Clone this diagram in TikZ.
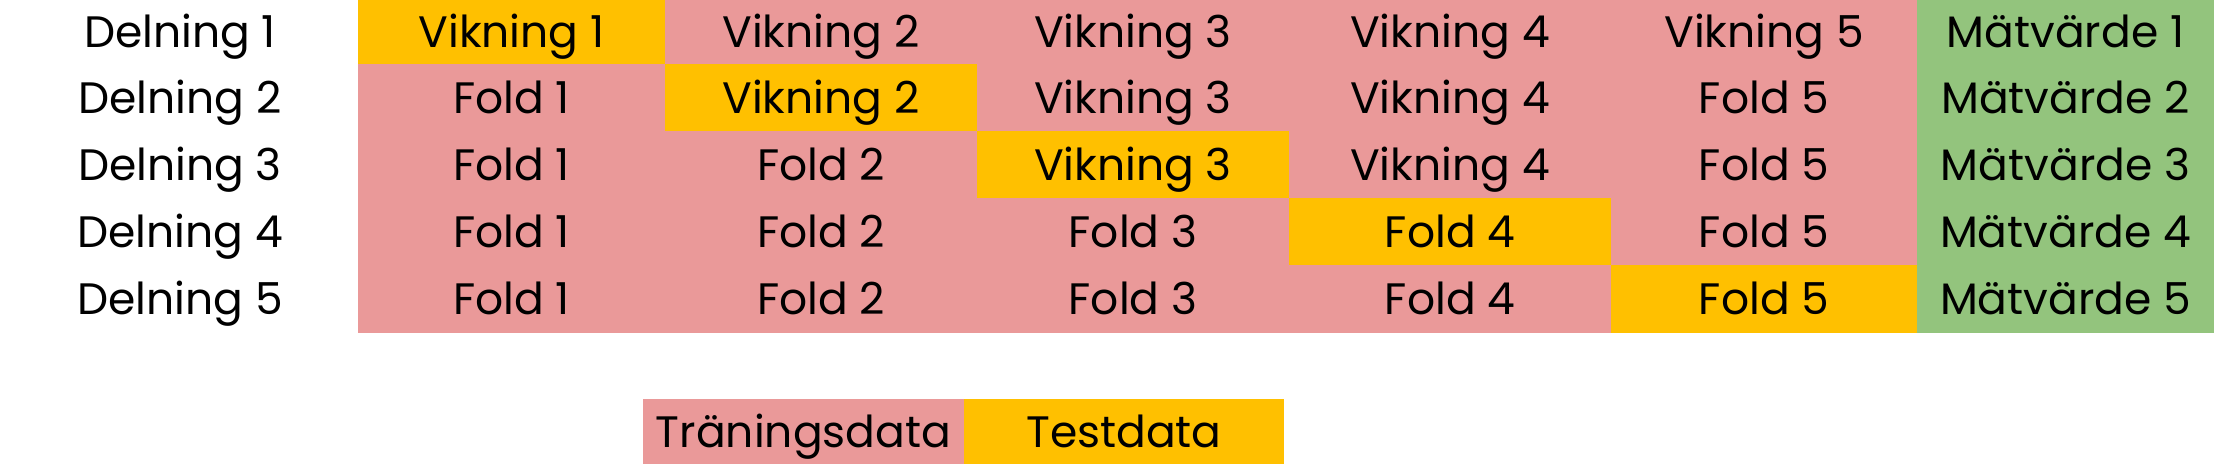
\documentclass[tikz,border=0pt]{standalone}
\usepackage{fontspec}
\setmainfont{Poppins}
\definecolor{trainpink}{HTML}{EA9999}
\definecolor{testgold}{HTML}{FFC000}
\definecolor{metricgreen}{HTML}{93C47D}
\tikzset{
  cellbox/.style={inner sep=0pt, outer sep=0pt, line width=1pt, text=black,
    font=\fontsize{44}{52}\selectfont, text height=31pt, text depth=0pt},
  rowlabel/.style={inner sep=0pt, text=black,
    font=\fontsize{44}{52}\selectfont, text height=31pt, text depth=0pt}
}
% name, colour, x1, y1, x2, y2, text
\newcommand{\mycell}[7]{%
  \node[cellbox, fill=#2, draw=#2,
    minimum width={(#5-#3)*1pt-1pt}, minimum height={(#6-#4)*1pt-1pt}]
    (#1) at ({(#3+#5)/2},{-(#4+#6)/2}) {#7};}
\begin{document}
\begin{tikzpicture}[x=1pt,y=1pt]
\useasboundingbox (0,0) rectangle (2220,-464);
% row labels
\node[rowlabel] (d1) at (180,-32) {Delning 1};
\node[rowlabel] (d2) at (180,-97.5) {Delning 2};
\node[rowlabel] (d3) at (180,-164.5) {Delning 3};
\node[rowlabel] (d4) at (180,-231.5) {Delning 4};
\node[rowlabel] (d5) at (180,-299) {Delning 5};
% row 1
\mycell{c11}{testgold}{358}{0}{665}{64}{Vikning 1}
\mycell{c12}{trainpink}{665}{0}{977}{64}{Vikning 2}
\mycell{c13}{trainpink}{977}{0}{1289}{64}{Vikning 3}
\mycell{c14}{trainpink}{1289}{0}{1611}{64}{Vikning 4}
\mycell{c15}{trainpink}{1611}{0}{1917}{64}{Vikning 5}
\mycell{c16}{metricgreen}{1917}{0}{2214}{64}{Mätvärde 1}
% row 2
\mycell{c21}{trainpink}{358}{64}{665}{131}{Fold 1}
\mycell{c22}{testgold}{665}{64}{977}{131}{Vikning 2}
\mycell{c23}{trainpink}{977}{64}{1289}{131}{Vikning 3}
\mycell{c24}{trainpink}{1289}{64}{1611}{131}{Vikning 4}
\mycell{c25}{trainpink}{1611}{64}{1917}{131}{Fold 5}
\mycell{c26}{metricgreen}{1917}{64}{2214}{131}{Mätvärde 2}
% row 3
\mycell{c31}{trainpink}{358}{131}{665}{198}{Fold 1}
\mycell{c32}{trainpink}{665}{131}{977}{198}{Fold 2}
\mycell{c33}{testgold}{977}{131}{1289}{198}{Vikning 3}
\mycell{c34}{trainpink}{1289}{131}{1611}{198}{Vikning 4}
\mycell{c35}{trainpink}{1611}{131}{1917}{198}{Fold 5}
\mycell{c36}{metricgreen}{1917}{131}{2214}{198}{Mätvärde 3}
% row 4
\mycell{c41}{trainpink}{358}{198}{665}{265}{Fold 1}
\mycell{c42}{trainpink}{665}{198}{977}{265}{Fold 2}
\mycell{c43}{trainpink}{977}{198}{1289}{265}{Fold 3}
\mycell{c44}{testgold}{1289}{198}{1611}{265}{Fold 4}
\mycell{c45}{trainpink}{1611}{198}{1917}{265}{Fold 5}
\mycell{c46}{metricgreen}{1917}{198}{2214}{265}{Mätvärde 4}
% row 5
\mycell{c51}{trainpink}{358}{265}{665}{333}{Fold 1}
\mycell{c52}{trainpink}{665}{265}{977}{333}{Fold 2}
\mycell{c53}{trainpink}{977}{265}{1289}{333}{Fold 3}
\mycell{c54}{trainpink}{1289}{265}{1611}{333}{Fold 4}
\mycell{c55}{testgold}{1611}{265}{1917}{333}{Fold 5}
\mycell{c56}{metricgreen}{1917}{265}{2214}{333}{Mätvärde 5}
% legend
\mycell{legtrain}{trainpink}{643}{399}{964}{464}{Träningsdata}
\mycell{legtest}{testgold}{964}{399}{1284}{464}{Testdata}
\end{tikzpicture}
\end{document}
